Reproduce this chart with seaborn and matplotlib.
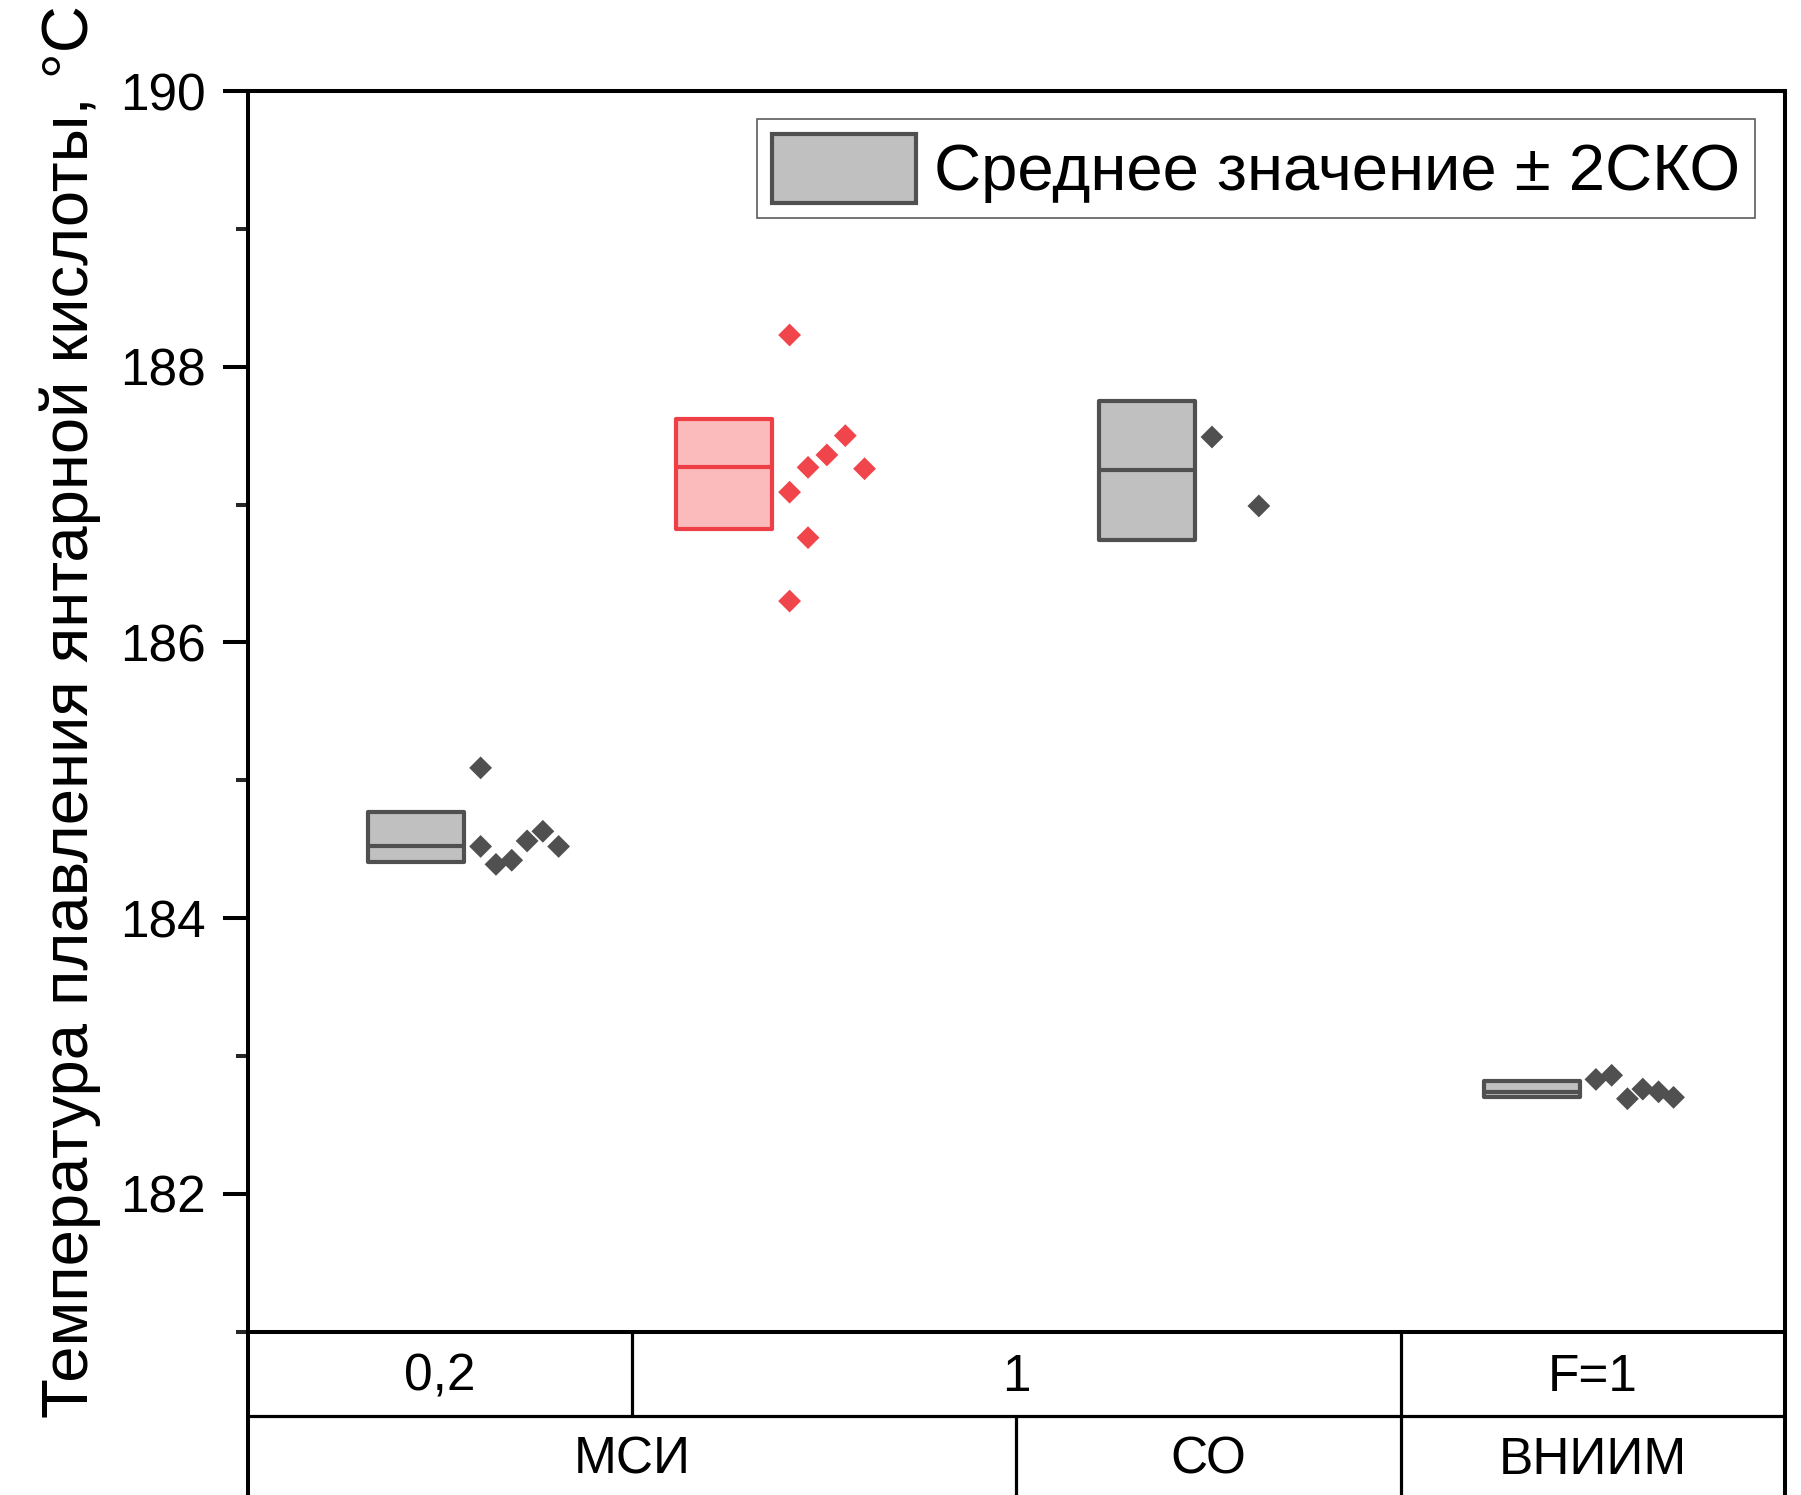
import numpy as np
import pandas as pd
import matplotlib
matplotlib.use("Agg")
import matplotlib.pyplot as plt
from matplotlib.patches import Patch
import matplotlib.transforms as mtransforms
import seaborn as sns

# ---------------- data ----------------
group_names = ["МСИ 0,2", "МСИ 1", "СО 1", "ВНИИМ F=1"]
row1_labels = ["0,2", "1", "F=1"]
row2_labels = ["МСИ", "СО", "ВНИИМ"]

msi_02_values = [185.09, 184.52, 184.39, 184.42, 184.56, 184.63, 184.52]
msi_1_values = [188.23, 187.09, 186.30, 187.27, 186.76, 187.36, 187.50, 187.26]
co_values = [187.49, 186.99]
vniim_values = [182.83, 182.86, 182.69, 182.76, 182.74, 182.70]

box_lower = [184.41, 186.82, 186.74, 182.70]
box_mean = [184.52, 187.27, 187.25, 182.74]
box_upper = [184.77, 187.62, 187.75, 182.82]

# ---------------- layout ----------------
box_centers = [0.438, 1.239, 2.339, 3.342]
box_width = 0.25
# horizontal offsets of the individual points (from the box's right edge)
point_offsets = [
    [0.043, 0.043, 0.083, 0.124, 0.164, 0.205, 0.246],
    [0.046, 0.046, 0.046, 0.094, 0.094, 0.143, 0.191, 0.241],
    [0.045, 0.167],
    [0.041, 0.082, 0.123, 0.163, 0.204, 0.243],
]
edge_cols = ["#505050", "#EE3F46", "#505050", "#505050"]
fill_cols = ["#C0C0C0", "#FBBBBD", "#C0C0C0", "#C0C0C0"]
pt_cols = ["#505050", "#F0454B", "#505050", "#505050"]

all_values = [msi_02_values, msi_1_values, co_values, vniim_values]
rows = []
for gi, vals in enumerate(all_values):
    right = box_centers[gi] + box_width / 2
    for v, off in zip(vals, point_offsets[gi]):
        rows.append({"group": group_names[gi], "x": right + off, "value": v})
df = pd.DataFrame(rows)

sns.set_theme(style="ticks")
plt.rcParams["font.family"] = ["Liberation Sans", "DejaVu Sans"]

fig = plt.figure(figsize=(18.01, 14.95), dpi=100)
L, R, T, B = 247.7, 1785, 91, 1331.7
W, H = 1801, 1495
ax = fig.add_axes([L / W, 1 - B / H, (R - L) / W, (B - T) / H])

# boxes
for gi in range(4):
    ax.bar(box_centers[gi], box_upper[gi] - box_lower[gi], bottom=box_lower[gi],
           width=box_width, color=fill_cols[gi], edgecolor=edge_cols[gi],
           linewidth=3.0, joinstyle="round", zorder=2)
    ax.hlines(box_mean[gi], box_centers[gi] - box_width / 2, box_centers[gi] + box_width / 2,
              color=edge_cols[gi], linewidth=3.0, zorder=3)

# points
sns.scatterplot(data=df, x="x", y="value", hue="group", palette=dict(zip(group_names, pt_cols)),
                marker="D", s=135, linewidth=0, legend=False, ax=ax, zorder=4)

ax.set_xlim(0, 4)
ax.set_ylim(181, 190)
ax.set_yticks([182, 184, 186, 188, 190])
ax.set_yticks([181, 183, 185, 187, 189], minor=True)
ax.set_xticks([])
ax.set_xlabel("")
ax.tick_params(axis="y", which="major", direction="out", length=18, width=2.9,
               labelsize=37, pad=12, colors="black")
ax.tick_params(axis="y", which="minor", direction="out", length=8.6, width=2.9)
for s in ax.spines.values():
    s.set_linewidth(2.9)
    s.set_color("black")

ax.set_ylabel("Температура плавления янтарной кислоты, °С", fontsize=47, color="black")
ax.yaxis.set_label_coords(-0.0954, 0.5)

# category table below the axes
trans = mtransforms.blended_transform_factory(ax.transData, ax.transAxes)
r1 = -84 / (B - T)
r2 = -(H - B) / (B - T)
lw_t = 2.3
ax.plot([0, 4], [r1, r1], transform=trans, color="black", lw=lw_t, clip_on=False)
for xv, y0, y1, lw in [(0, 0, r2, 2.9), (4, 0, r2, 2.9), (1, 0, r1, lw_t), (3, 0, r2, lw_t), (2, r1, r2, lw_t)]:
    ax.plot([xv, xv], [y0, y1], transform=trans, color="black", lw=lw, clip_on=False,
            solid_capstyle="butt")
row1_pos = [0.5, 2.0, 3.5]
row2_pos = [1.0, 2.5, 3.5]
for lab, xp in zip(row1_labels, row1_pos):
    ax.text(xp, r1 / 2 - 0.003, lab, transform=trans, ha="center", va="center", fontsize=37,
            color="black")
for lab, xp in zip(row2_labels, row2_pos):
    ax.text(xp, (r1 + r2) / 2 - 0.004, lab, transform=trans, ha="center", va="center", fontsize=37,
            color="black")

# legend
handle = Patch(facecolor="#C0C0C0", edgecolor="#505050", linewidth=3.0)
leg = ax.legend([handle], ["Среднее значение ± 2СКО"], loc="upper right",
                bbox_to_anchor=(1 - 30 / (R - L), 1 - 28 / (B - T)), borderaxespad=0,
                fontsize=47, frameon=True, fancybox=False, handlelength=2.2,
                handleheight=1.24, handletextpad=0.28, borderpad=0.23, labelcolor="black")
leg.get_frame().set_edgecolor("#333333")
leg.get_frame().set_linewidth(1.2)

fig.savefig("out.png", dpi=100)
